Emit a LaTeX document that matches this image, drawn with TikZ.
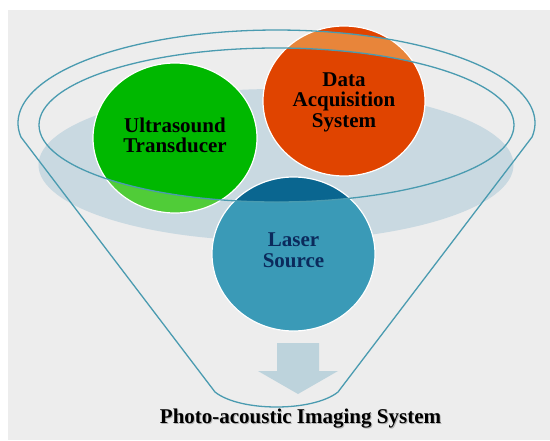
\documentclass[tikz,border=0pt]{standalone}
\usepackage{fontspec}
\setmainfont{Liberation Serif}
\definecolor{bg}{HTML}{EDEDED}
\definecolor{haze}{HTML}{C9D9E1}
\definecolor{rimcol}{HTML}{4A9BB0}
\definecolor{gdark}{HTML}{00B800}
\definecolor{glight}{HTML}{50CC38}
\definecolor{odark}{HTML}{E04400}
\definecolor{olight}{HTML}{E8853A}
\definecolor{bdark}{HTML}{0A6690}
\definecolor{blight}{HTML}{3A9AB7}
\definecolor{arrowcol}{HTML}{BDD3DC}
\definecolor{navy}{HTML}{0B2A5C}
% funnel body: top half of the outer rim, the two sides and the rounded spout
\newcommand\funnelbody{plot[domain=-8.7:188.7,samples=140] ({276.5+258.5*cos(\x)},{123-93*sin(\x)}) -- (215,392) .. controls (240,412) and (313,412) .. (338,392) -- cycle}
\newcommand\innerrim{(276.5,125) ellipse [x radius=237.5, y radius=77]}
\begin{document}
\begin{tikzpicture}[x=1pt,y=-1pt,
  rim/.style={draw=rimcol, line width=1.3pt, line join=round},
  disc/.style={draw=white, line width=1.2pt},
  lbl/.style={font=\fontsize{21}{20.5}\selectfont\bfseries, align=center, inner sep=0pt},
]
\useasboundingbox (0,0) rectangle (550,440);
\fill[white] (0,0) rectangle (550,440);
\fill[bg] (7.5,9.5) rectangle (550,440);

% soft shadow inside the funnel
\fill[haze] (276,165) ellipse [x radius=237.5, y radius=76];

% green disc
\fill[gdark] (175,138) ellipse [x radius=82, y radius=75];
\begin{scope}
  \clip (175,138) ellipse [x radius=82, y radius=75];
  \fill[glight, even odd rule] \funnelbody \innerrim;
\end{scope}
\draw[disc] (175,138) ellipse [x radius=82, y radius=75];

% orange disc
\fill[odark] (344,101) ellipse [x radius=81, y radius=75];
\begin{scope}
  \clip (344,101) ellipse [x radius=81, y radius=75];
  \fill[olight, even odd rule] \funnelbody \innerrim;
\end{scope}
\draw[disc] (344,101) ellipse [x radius=81, y radius=75];

% blue disc
\fill[bdark] (293.5,254) ellipse [x radius=81.5, y radius=77];
\begin{scope}
  \clip (293.5,254) ellipse [x radius=81.5, y radius=77];
  \fill[blight, even odd rule] \funnelbody \innerrim;
\end{scope}
\draw[disc] (293.5,254) ellipse [x radius=81.5, y radius=77];

% downward arrow in the spout
\fill[arrowcol] (277,343) -- (319,343) -- (319,371) -- (338,371) -- (298,394)
  -- (258,371) -- (277,371) -- cycle;

% funnel outline and inner rim
\draw[rim] \funnelbody;
\draw[rim] \innerrim;

% labels
\node[lbl] (ut) at (175,135.5) {Ultrasound\\Transducer};
\node[lbl] (das) at (344,102) {Data\\Acquisition\\System};
\node[lbl, text=navy] (ls) at (293.5,250) {Laser\\Source};
\node[lbl, anchor=base, text=black!45, opacity=0.6] (pas-shadow) at (301.5,424) {Photo-acoustic Imaging System};
\node[lbl, anchor=base] (pas) at (300.5,423) {Photo-acoustic Imaging System};
\end{tikzpicture}
\end{document}
